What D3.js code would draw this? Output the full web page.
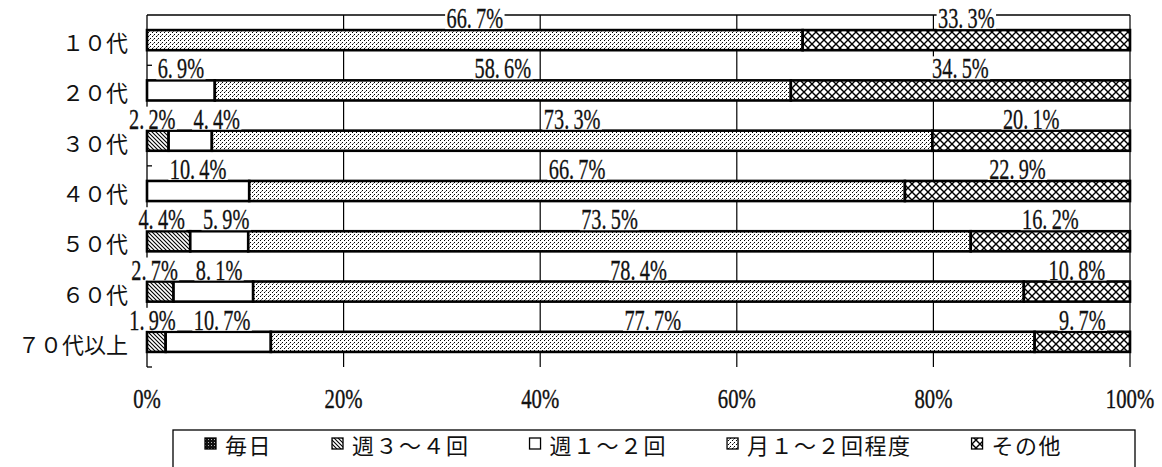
<!DOCTYPE html>
<html>
<head>
<meta charset="utf-8">
<script src="https://cdn.jsdelivr.net/npm/d3@7"></script>
<style>
  html, body { margin: 0; padding: 0; background: #fff; }
  svg { display: block; }
</style>
</head>
<body>
<svg id="chart" width="1162" height="467"></svg>
<script>
// ---------------- data ----------------
const categories = ["１０代", "２０代", "３０代", "４０代", "５０代", "６０代", "７０代以上"];
const seriesNames = ["毎日", "週３～４回", "週１～２回", "月１～２回程度", "その他"];
const daily    = [0, 0, 0, 0, 0, 0, 0];
const weekly34 = [0, 0, 2.2, 0, 4.4, 2.7, 1.9];
const weekly12 = [0, 6.9, 4.4, 10.4, 5.9, 8.1, 10.7];
const monthly  = [66.7, 58.6, 73.3, 66.7, 73.5, 78.4, 77.7];
const other    = [33.3, 34.5, 20.1, 22.9, 16.2, 10.8, 9.7];
const tickValues = [0, 20, 40, 60, 80, 100];
const tickLabels = ["0%", "20%", "40%", "60%", "80%", "100%"];

// ---------------- layout ----------------
const svg = d3.select("#chart");
const X0 = 147, X1 = 1130, Y0 = 15, Y1 = 367;
const serif = "'Liberation Serif', 'Times New Roman', serif";
const cjk = "'Noto Sans CJK JP', 'Noto Sans CJK SC', sans-serif";
const SX = 0.7; // horizontal condensing of numeric text

const keys = ["daily", "w34", "w12", "monthly", "other"];
const table = categories.map((c, i) => ({
  cat: c, daily: daily[i], w34: weekly34[i], w12: weekly12[i], monthly: monthly[i], other: other[i]
}));
const stacked = d3.stack().keys(keys)(table);

const x = d3.scaleLinear().domain([0, 100]).range([X0, X1]);
const y = d3.scaleBand().domain(categories).range([Y0, Y1]).paddingInner(0.6).paddingOuter(0.3);

// ---------------- patterns ----------------
const defs = svg.append("defs");
function pat(id, w, h, build) {
  const p = defs.append("pattern").attr("id", id).attr("patternUnits", "userSpaceOnUse")
    .attr("width", w).attr("height", h);
  p.append("rect").attr("width", w).attr("height", h).attr("fill", "#fff");
  build(p);
}
pat("p-daily", 3, 3, p => {
  p.append("rect").attr("width", 3).attr("height", 3).attr("fill", "#111");
  p.append("rect").attr("x", 1).attr("y", 1).attr("width", 1).attr("height", 1).attr("fill", "#bbb");
});
pat("p-w34", 4, 4, p => {
  p.append("path").attr("d", "M-1,-1 L5,5 M-1,3 L1,5 M3,-1 L5,1")
    .attr("stroke", "#000").attr("stroke-width", 1.1);
});
pat("p-w12", 4, 4, p => {});
pat("p-monthly", 4, 4, p => {
  p.append("rect").attr("x", 0).attr("y", 0).attr("width", 1).attr("height", 1).attr("fill", "#000");
  p.append("rect").attr("x", 2).attr("y", 2).attr("width", 1).attr("height", 1).attr("fill", "#000");
  p.append("rect").attr("x", 1).attr("y", 3).attr("width", 1).attr("height", 1).attr("fill", "#777");
});
pat("p-other", 8, 8, p => {
  p.append("path").attr("d", "M0,0 L8,8 M8,0 L0,8")
    .attr("stroke", "#000").attr("stroke-width", 1.4);
});
const fillFor = { daily: "url(#p-daily)", w34: "url(#p-w34)", w12: "url(#p-w12)", monthly: "url(#p-monthly)", other: "url(#p-other)" };

// ---------------- gridlines / frame ----------------
const grid = svg.append("g");
grid.selectAll("line.v").data(tickValues.filter(d => d > 0)).join("line")
  .attr("x1", d => x(d)).attr("x2", d => x(d)).attr("y1", Y0).attr("y2", Y1)
  .attr("stroke", "#000").attr("stroke-width", 1.2);
grid.append("line").attr("x1", X0).attr("x2", X1).attr("y1", Y0).attr("y2", Y0)
  .attr("stroke", "#000").attr("stroke-width", 1.3);

// ---------------- bars ----------------
const barG = svg.append("g");
stacked.forEach(layer => {
  barG.append("g").selectAll("rect").data(layer.filter(d => d[1] - d[0] > 0)).join("rect")
    .attr("x", d => x(d[0])).attr("width", d => x(d[1]) - x(d[0]))
    .attr("y", d => y(d.data.cat)).attr("height", y.bandwidth())
    .attr("fill", fillFor[layer.key]).attr("stroke", "#000").attr("stroke-width", 2.6);
});

// ---------------- y axis ----------------
const axG = svg.append("g");
axG.append("line").attr("x1", X0).attr("x2", X0).attr("y1", Y0).attr("y2", Y1)
  .attr("stroke", "#000").attr("stroke-width", 1.3);
const step = y.step();
axG.selectAll("line.t").data(d3.range(1, categories.length + 1)).join("line")
  .attr("x1", X0).attr("x2", X0 + 5)
  .attr("y1", d => Y0 + d * step).attr("y2", d => Y0 + d * step)
  .attr("stroke", "#000").attr("stroke-width", 1.3);

// category labels
svg.append("g").selectAll("text").data(categories).join("text")
  .attr("x", 128).attr("y", d => y(d) + y.bandwidth() / 2 + 1)
  .attr("text-anchor", "end").attr("dominant-baseline", "central")
  .attr("font-family", cjk).attr("font-size", 22).attr("fill", "#111")
  .text(d => d);

// x tick labels
const tl = svg.append("g");
tickValues.forEach((v, i) => {
  tl.append("g").attr("transform", `translate(${x(v)},408) scale(0.74,1)`)
    .append("text").attr("text-anchor", "middle")
    .attr("font-family", serif).attr("font-size", 28).attr("fill", "#111")
    .attr("stroke", "#111").attr("stroke-width", 0.4)
    .text(tickLabels[i]);
});

// ---------------- data labels ----------------
const fmt = d3.format(".1f");
const labG = svg.append("g");
table.forEach((row, i) => {
  const items = [];
  stacked.forEach(layer => {
    const d = layer[i];
    const v = d[1] - d[0];
    if (v <= 0) return;
    const g = labG.append("g");
    const t = g.append("text").attr("text-anchor", "middle")
      .attr("font-family", serif).attr("font-size", 29).attr("fill", "#111")
      .attr("stroke", "#111").attr("stroke-width", 0.3);
    const s = fmt(v).split(".");
    t.append("tspan").text(s[0] + ".");
    t.append("tspan").attr("dx", 6).text(s[1] + "%");
    const bb = t.node().getBBox();
    items.push({ g, t, bb, cx: x(d[0] + v / 2), w: bb.width * SX });
  });
  // resolve overlaps symmetrically, then keep clear of the category labels
  for (let k = 1; k < items.length; k++) {
    const a = items[k - 1], b = items[k];
    const ov = (a.cx + a.w / 2 + 18) - (b.cx - b.w / 2);
    if (ov > 0) { a.cx -= ov / 2; b.cx += ov / 2; }
  }
  if (items.length && items[0].cx - items[0].w / 2 < X0 - 18) {
    items[0].cx = X0 - 18 + items[0].w / 2;
    for (let k = 1; k < items.length; k++) {
      const a = items[k - 1], b = items[k];
      const ov = (a.cx + a.w / 2 + 18) - (b.cx - b.w / 2);
      if (ov > 0) b.cx += ov;
    }
  }
  const base = y(row.cat) - 2;
  items.forEach(it => {
    it.g.attr("transform", `translate(${it.cx},${base}) scale(${SX},1)`);
    it.g.insert("rect", "text")
      .attr("x", it.bb.x - 2).attr("y", -22).attr("width", it.bb.width + 4).attr("height", 23)
      .attr("fill", "#fff");
  });
});

// ---------------- legend ----------------
const legG = svg.append("g");
legG.append("rect").attr("x", 173).attr("y", 430).attr("width", 962).attr("height", 60)
  .attr("fill", "#fff").attr("stroke", "#000").attr("stroke-width", 1.3);
let lx = 205;
seriesNames.forEach((name, i) => {
  legG.append("rect").attr("x", lx).attr("y", 438).attr("width", 11).attr("height", 11)
    .attr("fill", fillFor[keys[i]]).attr("stroke", "#000").attr("stroke-width", 1.3);
  const t = legG.append("text").attr("x", lx + 20).attr("y", 444)
    .attr("dominant-baseline", "central")
    .attr("font-family", cjk).attr("font-size", 22).attr("letter-spacing", 1.5).attr("fill", "#111")
    .text(name);
  lx += 20 + t.node().getComputedTextLength() + 60;
});
</script>
</body>
</html>
